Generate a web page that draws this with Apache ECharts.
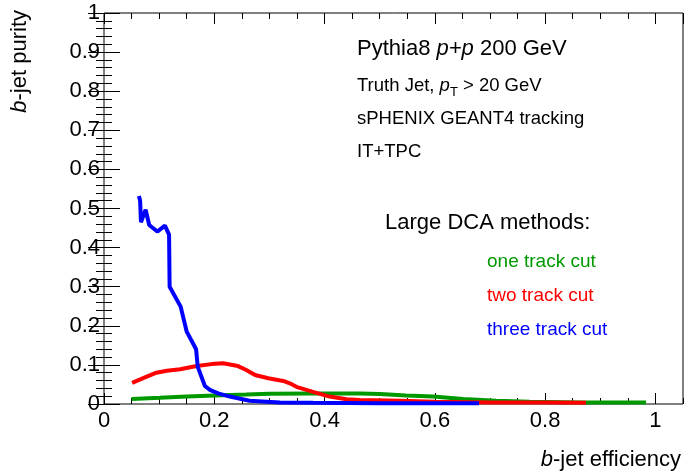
<!DOCTYPE html>
<html>
<head>
<meta charset="utf-8">
<script src="https://cdn.jsdelivr.net/npm/echarts@6/dist/echarts.min.js"></script>
<style>html,body{margin:0;padding:0;background:#fff;}#c{width:685px;height:476px;}</style>
</head>
<body>
<div id="c"></div>
<script>
// ---- data ----
const xTickLabels = ['0', '0.2', '0.4', '0.6', '0.8', '1'];
const yTickLabels = ['0', '0.1', '0.2', '0.3', '0.4', '0.5', '0.6', '0.7', '0.8', '0.9', '1'];

const oneTrackEff    = [0.050, 0.101, 0.150, 0.201, 0.258, 0.300, 0.379, 0.464, 0.500, 0.548, 0.597, 0.651, 0.711, 0.772, 0.862, 0.983];
const oneTrackPurity = [0.013, 0.016, 0.019, 0.022, 0.024, 0.026, 0.027, 0.027, 0.0256, 0.022, 0.019, 0.013, 0.0085, 0.006, 0.004, 0.004];

const twoTrackEff    = [0.051, 0.071, 0.095, 0.114, 0.138, 0.168, 0.195, 0.216, 0.243, 0.258, 0.274, 0.298, 0.325, 0.337, 0.349, 0.379, 0.409, 0.440, 0.464, 0.536, 0.600, 0.700, 0.800, 0.874];
const twoTrackPurity = [0.054, 0.066, 0.080, 0.085, 0.089, 0.097, 0.102, 0.104, 0.097, 0.087, 0.074, 0.066, 0.059, 0.053, 0.044, 0.031, 0.019, 0.012, 0.010, 0.008, 0.006, 0.004, 0.004, 0.003];

const threeTrackEff    = [0.0634, 0.0655, 0.067, 0.0755, 0.082, 0.087, 0.0966, 0.1105, 0.118, 0.119, 0.139, 0.150, 0.167, 0.170, 0.183, 0.192, 0.207, 0.228, 0.264, 0.319, 0.379, 0.500, 0.680];
const threeTrackPurity = [0.532, 0.520, 0.465, 0.497, 0.458, 0.452, 0.441, 0.456, 0.433, 0.300, 0.249, 0.185, 0.140, 0.095, 0.046, 0.036, 0.027, 0.019, 0.0085, 0.004, 0.003, 0.002, 0.002];

const seriesNames = ['one track cut', 'two track cut', 'three track cut'];
const seriesColors = ['#009a00', '#ff0000', '#0000ff'];

function pairs(xs, ys) { return xs.map((x, i) => [x, ys[i]]); }

const FONT = '"Liberation Sans", Arial, Helvetica, sans-serif';
const chart = echarts.init(document.getElementById('c'), null, { renderer: 'canvas' });

function xAx(opts) {
  return Object.assign({
    type: 'value', min: 0, max: 1.05, gridIndex: 0,
    splitLine: { show: false },
    axisLine: { show: false },
    axisLabel: { show: false },
    axisTick: { show: true, inside: true, length: 6, lineStyle: { color: '#000', width: 1 } }
  }, opts);
}
function yAx(opts) {
  return Object.assign({
    type: 'value', min: 0, max: 1, interval: 0.1, gridIndex: 0,
    splitLine: { show: false },
    axisLine: { show: false },
    axisLabel: { show: false },
    axisTick: { show: true, inside: true, length: 16, lineStyle: { color: '#000', width: 1 } },
    minorTick: { show: true, splitNumber: 5, length: 8, lineStyle: { color: '#000', width: 1 } }
  }, opts);
}

const option = {
  animation: false,
  backgroundColor: '#fff',
  grid: { left: 104, top: 13, width: 579, height: 391, show: true, borderColor: '#000', borderWidth: 1, backgroundColor: 'transparent' },
  xAxis: [
    xAx({ position: 'bottom', interval: 0.2,
      axisTick: { show: true, inside: true, length: 11, lineStyle: { color: '#000', width: 1 } },
      axisLabel: { show: true, margin: 6, color: '#000', fontSize: 22, fontFamily: FONT, showMaxLabel: false,
        formatter: function (v) { const i = Math.round(v / 0.2); return (Math.abs(v - i * 0.2) < 1e-6 && xTickLabels[i] !== undefined) ? xTickLabels[i] : ''; } } }),
    xAx({ position: 'bottom', interval: 0.05 }),
    xAx({ position: 'top', interval: 0.2,
      axisTick: { show: true, inside: true, length: 11, lineStyle: { color: '#000', width: 1 } } }),
    xAx({ position: 'top', interval: 0.05 })
  ],
  yAxis: [
    yAx({ position: 'left',
      axisLabel: { show: true, margin: 4, color: '#000', fontSize: 22, fontFamily: FONT,
        formatter: function (v) { const i = Math.round(v * 10); return yTickLabels[i]; } } }),
    yAx({ position: 'right' })
  ],
  series: [0, 1, 2].map(function (k) {
    const xs = [oneTrackEff, twoTrackEff, threeTrackEff][k];
    const ys = [oneTrackPurity, twoTrackPurity, threeTrackPurity][k];
    return {
      name: seriesNames[k], type: 'line', xAxisIndex: 0, yAxisIndex: 0,
      data: pairs(xs, ys), showSymbol: false, symbol: 'none',
      lineStyle: { color: seriesColors[k], width: 4 }, z: 3 + k, silent: true
    };
  }),
  graphic: [
    { type: 'text', x: 20, y: 10, rotation: Math.PI / 2,
      style: { text: '{i|b}-jet purity', align: 'right', verticalAlign: 'middle', fill: '#000', fontSize: 22, fontFamily: FONT,
        rich: { i: { fontStyle: 'italic', fontSize: 22, fontFamily: FONT, fill: '#000' } } } },
    { type: 'text', x: 681, y: 460,
      style: { text: '{i|b}-jet efficiency', align: 'right', verticalAlign: 'middle', fill: '#000', fontSize: 22, fontFamily: FONT,
        rich: { i: { fontStyle: 'italic', fontSize: 22, fontFamily: FONT, fill: '#000' } } } },
    { type: 'text', x: 357, y: 49,
      style: { text: 'Pythia8 {i|p+p} 200 GeV', align: 'left', verticalAlign: 'middle', fill: '#000', fontSize: 22, fontFamily: FONT,
        rich: { i: { fontStyle: 'italic', fontSize: 22, fontFamily: FONT, fill: '#000' } } } },
    { type: 'text', x: 357, y: 86,
      style: { text: 'Truth Jet, {i|p}{sub|T}{n| > 20 GeV}', align: 'left', verticalAlign: 'middle', fill: '#000', fontSize: 18.5, fontFamily: FONT,
        rich: {
          i: { fontStyle: 'italic', fontSize: 18.5, fontFamily: FONT, fill: '#000', lineHeight: 26, verticalAlign: 'middle' },
          n: { fontSize: 18.5, fontFamily: FONT, fill: '#000', lineHeight: 26, verticalAlign: 'middle' },
          sub: { fontSize: 13, fontFamily: FONT, fill: '#000', lineHeight: 13, verticalAlign: 'bottom' }
        } } },
    { type: 'text', x: 357, y: 119,
      style: { text: 'sPHENIX GEANT4 tracking', align: 'left', verticalAlign: 'middle', fill: '#000', fontSize: 18.5, fontFamily: FONT } },
    { type: 'text', x: 357, y: 152,
      style: { text: 'IT+TPC', align: 'left', verticalAlign: 'middle', fill: '#000', fontSize: 18.5, fontFamily: FONT } },
    { type: 'text', x: 385, y: 223,
      style: { text: 'Large DCA methods:', align: 'left', verticalAlign: 'middle', fill: '#000', fontSize: 22, fontFamily: FONT } },
    { type: 'text', x: 487, y: 262,
      style: { text: seriesNames[0], align: 'left', verticalAlign: 'middle', fill: seriesColors[0], fontSize: 19, fontFamily: FONT } },
    { type: 'text', x: 487, y: 296,
      style: { text: seriesNames[1], align: 'left', verticalAlign: 'middle', fill: seriesColors[1], fontSize: 19, fontFamily: FONT } },
    { type: 'text', x: 487, y: 330,
      style: { text: seriesNames[2], align: 'left', verticalAlign: 'middle', fill: seriesColors[2], fontSize: 19, fontFamily: FONT } }
  ]
};
chart.setOption(option);
</script>
</body>
</html>
